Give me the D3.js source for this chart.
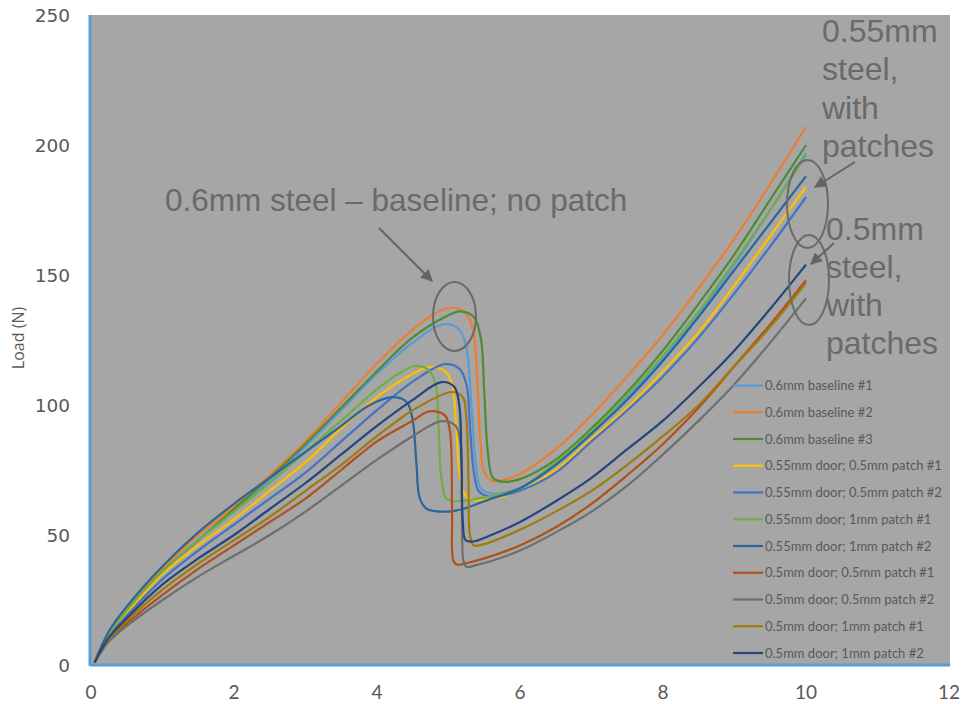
<!DOCTYPE html>
<html><head><meta charset="utf-8">
<script src="https://cdn.jsdelivr.net/npm/d3@7"></script>
<style>body{margin:0;background:#fff}svg{display:block}</style>
</head><body>
<svg id="c" width="965" height="704"></svg>
<script>
// ---------- data ----------
const xTicks = [0, 2, 4, 6, 8, 10, 12];
const yTicks = [0, 50, 100, 150, 200, 250];
const yTitle = "Load (N)";
const seriesNames = [
  "0.6mm baseline #1", "0.6mm baseline #2", "0.6mm baseline #3",
  "0.55mm door; 0.5mm patch #1", "0.55mm door; 0.5mm patch #2",
  "0.55mm door; 1mm patch #1", "0.55mm door; 1mm patch #2",
  "0.5mm door; 0.5mm patch #1", "0.5mm door; 0.5mm patch #2",
  "0.5mm door; 1mm patch #1", "0.5mm door; 1mm patch #2"
];
const baseline1 = [[0.05,1],[0.25,12],[0.5,21],[1,36],[1.5,48],[2,59],[2.5,71],[3,84],[3.5,98],[4,112],[4.5,124],[4.92,131],[5.15,129],[5.25,122],[5.32,100],[5.38,78],[5.45,68],[5.6,66],[5.8,66.5],[6,68],[6.5,77],[7,89],[7.5,103],[8,118],[8.5,135],[9,154],[9.5,175],[10,197]];
const baseline2 = [[0.05,1],[0.25,12.5],[0.5,22],[1,37],[1.5,50],[2,61],[2.5,73],[3,86],[3.5,101],[4,116],[4.5,129],[4.8,135],[5.05,137.5],[5.25,135],[5.35,128],[5.4,110],[5.45,85],[5.5,74],[5.6,71],[5.75,71],[6,73.5],[6.5,83],[7,96],[7.5,111],[8,127],[8.5,145],[9,164],[9.5,185],[10,207]];
const baseline3 = [[0.05,1],[0.25,12],[0.5,21],[1,36],[1.5,48],[2,60],[2.5,72],[3,85],[3.5,99],[4,113],[4.5,126],[5,134.5],[5.16,136],[5.35,134],[5.45,126],[5.5,105],[5.55,82],[5.62,72],[5.75,70.5],[6,71.5],[6.5,79],[7,91],[7.5,105],[8,121],[8.5,139],[9,158],[9.5,179],[10,200]];
const d55p05a = [[0.05,1],[0.25,11.5],[0.5,20],[1,35],[1.5,46],[2,56],[2.5,67],[3,78],[3.5,91],[4,103],[4.5,112],[4.74,114.6],[4.95,113],[5.05,108],[5.1,95],[5.15,75],[5.22,66],[5.35,63.5],[5.6,64],[6,67],[6.5,75],[7,87],[7.5,99],[8,113],[8.5,128],[9,146],[9.5,165],[10,184]];
const d55p05b = [[0.05,1],[0.25,11],[0.5,19],[1,33],[1.5,44],[2,54],[2.5,64],[3,74],[3.5,86],[4,98],[4.5,109],[4.95,115.7],[5.15,114],[5.25,108],[5.3,92],[5.35,75],[5.42,67],[5.55,65],[5.8,65.5],[6,67],[6.5,74],[7,86],[7.5,98],[8,111],[8.5,126],[9,143],[9.5,161],[10,180]];
const d55p1a = [[0.05,1],[0.25,12],[0.5,21],[1,36],[1.5,48],[2,59],[2.5,70],[3,82],[3.5,94],[4,106],[4.3,112],[4.53,115],[4.72,113.5],[4.82,108],[4.86,92],[4.9,72],[4.97,64],[5.1,63],[5.3,63.5],[5.6,65],[6,68],[6.5,78],[7,90],[7.5,104],[8,119],[8.5,136],[9,155],[9.5,175],[10,196]];
const d55p1b = [[0.05,1],[0.25,13],[0.5,22.5],[1,38],[1.5,51],[2,62],[2.5,72],[3,82],[3.5,92],[3.9,100],[4.23,103],[4.42,101],[4.5,94],[4.55,78],[4.6,64],[4.7,60],[5,59],[5.2,60],[5.5,63],[6,68],[6.5,77],[7,89],[7.5,102],[8,117],[8.5,134],[9,152],[9.5,170],[10,188]];
const d5p05a = [[0.05,1],[0.25,9.5],[0.5,16],[1,27],[1.5,37],[2,46],[2.5,55],[3,64],[3.5,75],[4,86],[4.5,94],[4.74,97.6],[4.95,96],[5.02,90],[5.05,60],[5.07,40],[5.12,38.6],[5.3,39.5],[5.5,41],[6,46],[6.5,53],[7,62],[7.5,73],[8,85],[8.5,99],[9,115],[9.5,131],[10,148]];
const d5p05b = [[0.05,1],[0.25,9],[0.5,15],[1,25],[1.5,34],[2,42],[2.5,50],[3,59],[3.5,69],[4,79],[4.5,88],[4.9,93.8],[5.1,92],[5.17,85],[5.19,60],[5.21,40],[5.25,37.8],[5.4,38.5],[5.6,40],[6,44],[6.5,51],[7,59],[7.5,69],[8,81],[8.5,94],[9,108],[9.5,124],[10,141]];
const d5p1a = [[0.05,1],[0.25,10],[0.5,17],[1,29],[1.5,39],[2,48],[2.5,57],[3,67],[3.5,77],[4,88],[4.5,98],[5.05,105],[5.2,103],[5.25,95],[5.28,70],[5.3,50],[5.35,46],[5.5,46.5],[6,52],[6.5,59],[7,67],[7.5,77],[8,88],[8.5,100],[9,115],[9.5,130],[10,147]];
const d5p1b = [[0.05,1],[0.25,10.5],[0.5,18],[1,31],[1.5,41],[2,50],[2.5,60],[3,70],[3.5,81],[4,92],[4.5,102],[4.9,108.8],[5.08,107],[5.15,100],[5.18,80],[5.2,55],[5.24,48],[5.35,47.5],[5.6,50],[6,55],[6.5,63],[7,72],[7.5,83],[8,94],[8.5,107],[9,121],[9.5,137],[10,154]];
const seriesData = [baseline1, baseline2, baseline3, d55p05a, d55p05b, d55p1a, d55p1b, d5p05a, d5p05b, d5p1a, d5p1b];
const annoBaseline = "0.6mm steel \u2013 baseline; no patch";
const anno55 = ["0.55mm", "steel,", "with", "patches"];
const anno5 = ["0.5mm", "steel,", "with", "patches"];

// ---------- styles ----------
const colors = ["#5b9bd5","#ed7d31","#4f8a35","#ffc000","#4472c4","#70ad47","#2a659c","#b0501a","#6e6e6e","#a07a0c","#26457a"];

const svg = d3.select("#c");
const L = 90, R = 950, T = 15, B = 665;
const x = d3.scaleLinear().domain([0, 12]).range([91, 949]);
const y = d3.scaleLinear().domain([0, 250]).range([B, T]);

svg.append("rect").attr("x", L).attr("y", T).attr("width", R - L).attr("height", B - T).attr("fill", "#a6a6a6");

const defs = svg.append("defs");
defs.append("marker").attr("id","arr").attr("viewBox","0 0 10 10").attr("refX",9).attr("refY",5)
  .attr("markerWidth",6).attr("markerHeight",6).attr("orient","auto")
  .append("path").attr("d","M0,0 L10,5 L0,10 z").attr("fill","#646464");

// curves
const line = d3.line().x(d => x(d[0])).y(d => y(d[1])).curve(d3.curveCatmullRom.alpha(0.5));
svg.append("g").selectAll("path").data(seriesData).join("path")
  .attr("d", line).attr("fill", "none")
  .attr("stroke", (d, i) => colors[i]).attr("stroke-width", 2.2)
  .attr("stroke-linejoin", "round");

// axes lines
svg.append("line").attr("x1", L).attr("x2", L).attr("y1", T).attr("y2", B + 1).attr("stroke", "#5b9bd5").attr("stroke-width", 3);
svg.append("line").attr("x1", L).attr("x2", R).attr("y1", B).attr("y2", B).attr("stroke", "#5b9bd5").attr("stroke-width", 3);

// tick labels
svg.append("g").selectAll("text").data(yTicks).join("text")
  .attr("x", 70).attr("y", d => y(d)).attr("dy", "0.36em").attr("text-anchor", "end")
  .attr("font-family", "DejaVu Sans, sans-serif").attr("font-size", 18.5).attr("fill", "#595959")
  .text(d => d);
svg.append("g").selectAll("text").data(xTicks).join("text")
  .attr("x", d => x(d)).attr("y", 692).attr("dy", "0.35em").attr("text-anchor", "middle")
  .attr("font-family", "Lato, sans-serif").attr("font-size", 19).attr("fill", "#595959")
  .text(d => d);
svg.append("text").attr("transform", "translate(24,338) rotate(-90)").attr("text-anchor", "middle")
  .attr("font-family", "Open Sans, sans-serif").attr("font-size", 16).attr("fill", "#595959").text(yTitle);

// legend
const lg = svg.append("g").attr("font-family", "Lato, sans-serif").attr("font-size", 13).attr("fill", "#595959");
seriesNames.forEach((n, i) => {
  const yy = 385.5 + i * 26.75;
  lg.append("line").attr("x1", 733).attr("x2", 763).attr("y1", yy).attr("y2", yy).attr("stroke", colors[i]).attr("stroke-width", 2.2);
  lg.append("text").attr("x", 765).attr("y", yy).attr("dy", "0.35em").text(n);
});

// annotations
const ac = "#6a6a6a";
const af = "Liberation Sans, Arial, sans-serif";
svg.append("text").attr("x", 165).attr("y", 211).attr("font-family", af).attr("font-size", 31.5).attr("fill", ac).text(annoBaseline);
svg.append("line").attr("x1", 379).attr("y1", 228).attr("x2", 432).attr("y2", 281).attr("stroke", "#646464").attr("stroke-width", 2).attr("marker-end", "url(#arr)");
svg.append("ellipse").attr("cx", 454.5).attr("cy", 316.5).attr("rx", 21.5).attr("ry", 34.5).attr("fill", "none").attr("stroke", ac).attr("stroke-width", 2);

anno55.forEach((t, i) => svg.append("text").attr("x", 822).attr("y", 42 + i * 38.3).attr("font-family", af).attr("font-size", 32).attr("fill", ac).text(t));
anno5.forEach((t, i) => svg.append("text").attr("x", 826).attr("y", 240 + i * 38).attr("font-family", af).attr("font-size", 32).attr("fill", ac).text(t));

svg.append("ellipse").attr("cx", 807.5).attr("cy", 204).attr("rx", 20.5).attr("ry", 44).attr("fill", "none").attr("stroke", ac).attr("stroke-width", 2);
svg.append("ellipse").attr("cx", 809).attr("cy", 280).attr("rx", 20).attr("ry", 45).attr("fill", "none").attr("stroke", ac).attr("stroke-width", 2);
svg.append("line").attr("x1", 855).attr("y1", 162).attr("x2", 815).attr("y2", 187).attr("stroke", "#646464").attr("stroke-width", 2).attr("marker-end", "url(#arr)");
svg.append("line").attr("x1", 834).attr("y1", 243).attr("x2", 811).attr("y2", 264).attr("stroke", "#646464").attr("stroke-width", 2).attr("marker-end", "url(#arr)");
</script>
</body></html>
